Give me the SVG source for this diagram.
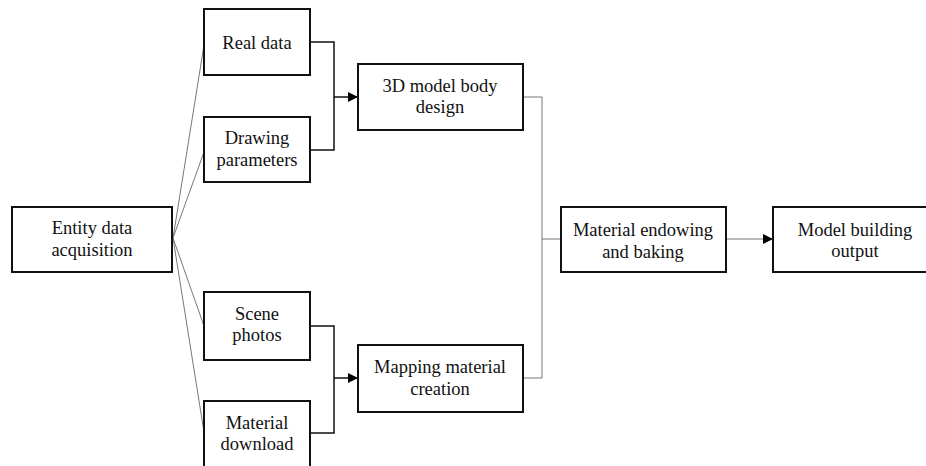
<svg xmlns="http://www.w3.org/2000/svg" width="926" height="466" viewBox="0 0 926 466">
<defs>
<marker id="arr" viewBox="0 0 10 10" refX="10" refY="5" markerWidth="10" markerHeight="10" markerUnits="userSpaceOnUse" orient="auto">
<path d="M0,0 L10,5 L0,10 Z" fill="#000"/>
</marker>
<style>
.box{fill:#fff;stroke:#111;stroke-width:2}
.t{font-size:18.5px;fill:#111;text-anchor:middle}
.thin{fill:none;stroke:#777;stroke-width:1}
.br{fill:none;stroke:#111;stroke-width:1.5}
</style>
</defs>
<rect width="926" height="466" fill="#fff"/>
<g id="connectors">
<line class="thin" x1="173" y1="238" x2="204" y2="45"/>
<line class="thin" x1="173" y1="238" x2="204" y2="152"/>
<line class="thin" x1="173" y1="238" x2="204" y2="326"/>
<line class="thin" x1="173" y1="238" x2="204" y2="432"/>
<polyline class="br" points="310,42 334,42 334,150 310,150"/>
<line class="br" x1="334" y1="97" x2="358" y2="97" marker-end="url(#arr)"/>
<polyline class="br" points="310,326 334,326 334,433 310,433"/>
<line class="br" x1="334" y1="378" x2="358" y2="378" marker-end="url(#arr)"/>
<polyline class="thin" points="523,97 542,97 542,378 523,378"/>
<line class="thin" x1="542" y1="239" x2="561" y2="239"/>
<line class="thin" x1="726" y1="239" x2="773" y2="239" marker-end="url(#arr)"/>
</g>
<g font-family="'Liberation Serif', 'DejaVu Serif', serif">
<g id="entity">
<rect class="box" x="12" y="207" width="160" height="65"/>
<text class="t" x="92" y="234">Entity data</text>
<text class="t" x="92" y="256">acquisition</text>
</g>
<g id="real-data">
<rect class="box" x="204" y="9" width="106" height="66"/>
<text class="t" x="257" y="49">Real data</text>
</g>
<g id="drawing-parameters">
<rect class="box" x="204" y="117" width="106" height="65"/>
<text class="t" x="257" y="144">Drawing</text>
<text class="t" x="257" y="166">parameters</text>
</g>
<g id="scene-photos">
<rect class="box" x="204" y="292" width="106" height="68"/>
<text class="t" x="257" y="320">Scene</text>
<text class="t" x="257" y="341">photos</text>
</g>
<g id="material-download">
<rect class="box" x="204" y="401" width="106" height="75"/>
<text class="t" x="257" y="429">Material</text>
<text class="t" x="257" y="450">download</text>
</g>
<g id="model-body">
<rect class="box" x="358" y="64" width="165" height="66"/>
<text class="t" x="440" y="92">3D model body</text>
<text class="t" x="440" y="113">design</text>
</g>
<g id="mapping">
<rect class="box" x="358" y="345" width="165" height="67"/>
<text class="t" x="440" y="373">Mapping material</text>
<text class="t" x="440" y="395">creation</text>
</g>
<g id="material-endowing">
<rect class="box" x="561" y="207" width="165" height="65"/>
<text class="t" x="643" y="236">Material endowing</text>
<text class="t" x="643" y="258">and baking</text>
</g>
<g id="model-output">
<rect class="box" x="773" y="207" width="166" height="65"/>
<text class="t" x="855" y="236">Model building</text>
<text class="t" x="855" y="257">output</text>
</g>
</g>
</svg>
